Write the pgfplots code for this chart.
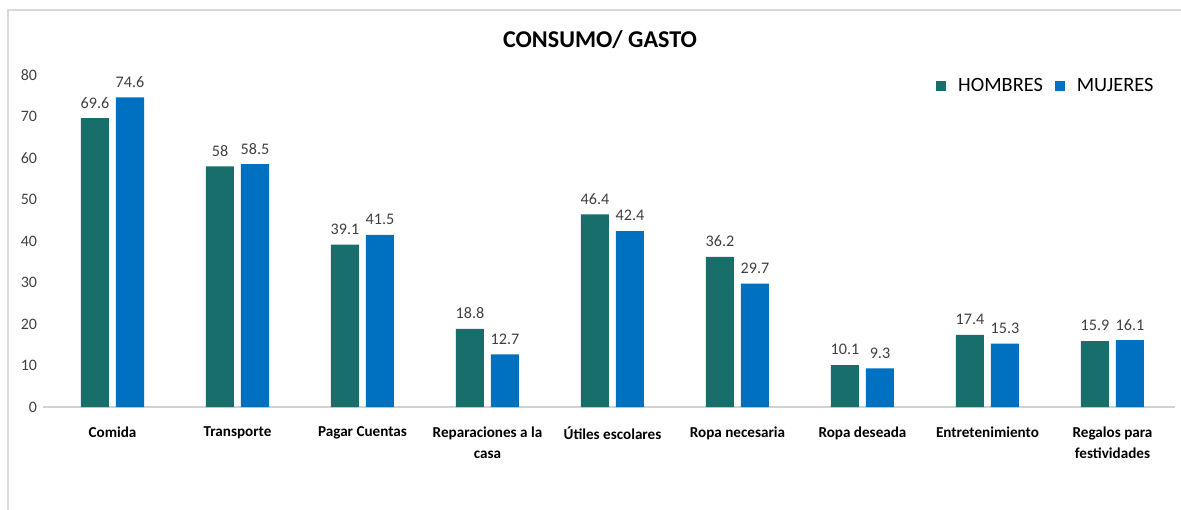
\documentclass[border=0pt]{standalone}
\usepackage{fontspec}
\setmainfont{Carlito}
\usepackage{pgfplots}
\pgfplotsset{compat=1.18}

\definecolor{hombres}{RGB}{23,110,107}
\definecolor{mujeres}{RGB}{0,112,192}
\definecolor{labelgray}{RGB}{64,64,64}

\begin{document}
\begin{tikzpicture}
\useasboundingbox (0,0) rectangle (590.5bp,255bp);
\draw[gray!30, line width=1bp] (4bp,0) -- (4bp,250bp) -- (600bp,250bp);
\node[font=\fontsize{12.1}{14}\selectfont\bfseries] at (300bp,235bp) {CONSUMO/ GASTO};
\begin{axis}[
    at={(25bp,51.5bp)}, anchor=south west,
    scale only axis,
    width=562.5bp, height=166bp,
    xmin=-0.5, xmax=8.5,
    ymin=0, ymax=80,
    ytick={0,10,...,80},
    xtick=data,
    xticklabels={Comida, Transporte, Pagar Cuentas, Reparaciones a la\\casa, Útiles escolares, Ropa necesaria, Ropa deseada, Entretenimiento, Regalos para\\festividades},
    xticklabel style={font=\fontsize{7.6}{10.5}\selectfont\bfseries, align=center, yshift=-6.5bp},
    yticklabel style={font=\fontsize{8}{9}\selectfont, text=labelgray, xshift=-3bp},
    /pgf/number format/assume math mode=true,
    major tick length=0pt,
    axis x line*=bottom, axis y line*=left,
    x axis line style={draw=gray!35, line width=1bp, -, shorten <=-3.5bp},
    y axis line style={draw=none},
    ybar=3.5bp, bar width=14bp,
    nodes near coords,
    every node near coord/.append style={font=\fontsize{8.1}{9}\selectfont, text=labelgray, yshift=1.5bp},
    clip=false,
    legend columns=2,
    legend style={at={(rel axis cs:0.99,0.967)}, anchor=east, draw=none, fill=none,
        font=\fontsize{10.2}{12}\selectfont, column sep=4bp},
    legend image code/.code={\fill[#1] (0bp,-2.5bp) rectangle (5bp,2.5bp);},
]
\addplot[draw=none, fill=hombres] coordinates {(0,69.6) (1,58) (2,39.1) (3,18.8) (4,46.4) (5,36.2) (6,10.1) (7,17.4) (8,15.9)};
\addlegendentry{HOMBRES}
\addplot[draw=none, fill=mujeres] coordinates {(0,74.6) (1,58.5) (2,41.5) (3,12.7) (4,42.4) (5,29.7) (6,9.3) (7,15.3) (8,16.1)};
\addlegendentry{MUJERES}
\end{axis}
\end{tikzpicture}
\end{document}
